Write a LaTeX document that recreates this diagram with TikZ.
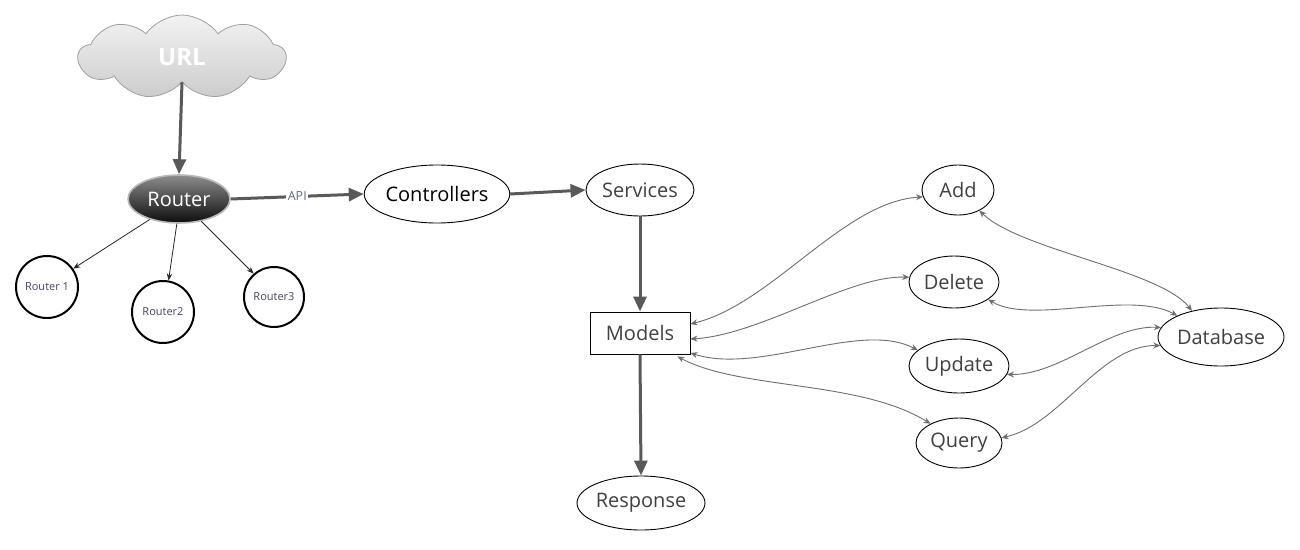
\documentclass[tikz,border=0pt]{standalone}
\usepackage{fontspec}
\setmainfont{Open Sans}
\usetikzlibrary{shapes.geometric,shapes.symbols,arrows.meta}
\definecolor{thickgray}{HTML}{595959}
\definecolor{curvegray}{HTML}{6E6E6E}
\definecolor{txtgray}{HTML}{404040}
\definecolor{apiblue}{HTML}{5E6E82}
\definecolor{smalltxt}{HTML}{4A4060}
\tikzset{
  oval/.style={ellipse,draw=black,line width=0.9pt,inner sep=0pt,text=txtgray,font=\fontsize{20}{24}\selectfont},
  subrouter/.style={circle,draw=black,line width=2pt,inner sep=0pt,text=smalltxt,font=\fontsize{11}{13}\selectfont},
  thickarrow/.style={draw=thickgray,line width=3pt,-{Triangle[length=15pt,width=13pt]}},
  thinarrow/.style={draw=black!85,line width=0.8pt,-{Stealth[length=7pt,width=5.5pt]}},
  curvearrow/.style={draw=curvegray,line width=0.9pt,{Stealth[length=7pt,width=6pt]}-{Stealth[length=7pt,width=6pt]}}
}
\begin{document}
\begin{tikzpicture}[x=1pt,y=-1pt]
\useasboundingbox[fill=white] (0,0) rectangle (1300,549);
% nodes
\node[cloud,cloud puffs=9,cloud puff arc=110,aspect=2.5,draw=gray!75,line width=0.8pt,
      top color=gray!10,bottom color=gray!40,minimum width=207,minimum height=84,inner sep=0pt,
      text=white,font=\bfseries\fontsize{24}{27}\selectfont] (url) at (182,57) {URL};
\node[ellipse,draw=gray!55,line width=1.6pt,top color=black!45,bottom color=black!95,
      minimum width=102,minimum height=48,inner sep=0pt,text=white,
      font=\fontsize{20}{24}\selectfont] (router) at (179,199) {Router};
\node[subrouter,minimum size=62] (r1) at (47,287) {Router 1};
\node[subrouter,minimum size=62] (r2) at (163,312) {Router2};
\node[subrouter,minimum size=60] (r3) at (274,297) {Router3};
\node[oval,text=black,minimum width=139,minimum height=58] (ctrl) at (437,194) {Controllers};
\node[oval,minimum width=108,minimum height=52] (serv) at (640,190) {Services};
\node[rectangle,draw=black,line width=0.9pt,minimum width=100,minimum height=42,inner sep=0pt,
      text=txtgray,font=\fontsize{20}{24}\selectfont] (models) at (640,333) {Models};
\node[oval,minimum width=124,minimum height=54] (resp) at (641,503) {Response};
\node[oval,minimum width=72,minimum height=50] (add) at (958,190) {Add};
\node[oval,minimum width=90,minimum height=52] (del) at (954,282) {Delete};
\node[oval,minimum width=100,minimum height=54] (upd) at (959,366) {Update};
\node[oval,minimum width=86,minimum height=50] (query) at (959,443) {Query};
\node[oval,minimum width=126,minimum height=58] (db) at (1221,337) {Database};
% thick flow
\draw[thickarrow] (url.south) -- (router.north);
\draw[thickarrow] (router.east) -- node[fill=white,inner sep=1.5pt,text=apiblue,font=\fontsize{12.5}{14}\selectfont] {API} (ctrl.west);
\draw[thickarrow] (ctrl.east) -- (serv.west);
\draw[thickarrow] (serv.south) -- (models.north);
\draw[thickarrow] (models.south) -- (resp.north);
% router children
\draw[thinarrow] (router.215) -- (r1.35);
\draw[thinarrow] (router.265) -- (r2.80);
\draw[thinarrow] (router.-45) -- (r3.131);
% models <-> operations
\draw[curvearrow] ([yshift=9pt]models.east) .. controls (772,304) and (843,202) .. (add.191);
\draw[curvearrow] ([yshift=-6pt]models.east) .. controls (760,335) and (850,275) .. (del.174);
\draw[curvearrow] ([yshift=-20pt]models.east) .. controls (760,375) and (860,320) .. (upd.159);
\draw[curvearrow] ([xshift=-13pt,yshift=-2pt]models.south east) .. controls (740,390) and (860,380) .. (query.146);
% operations <-> database
\draw[curvearrow] (add.316) .. controls (1020,250) and (1160,270) .. (db.138);
\draw[curvearrow] (del.333) .. controls (1030,325) and (1130,290) .. (db.154);
\draw[curvearrow] (upd.350) .. controls (1060,375) and (1110,325) .. (db.171);
\draw[curvearrow] (query.7) .. controls (1060,425) and (1100,345) .. (db.188);
\end{tikzpicture}
\end{document}
